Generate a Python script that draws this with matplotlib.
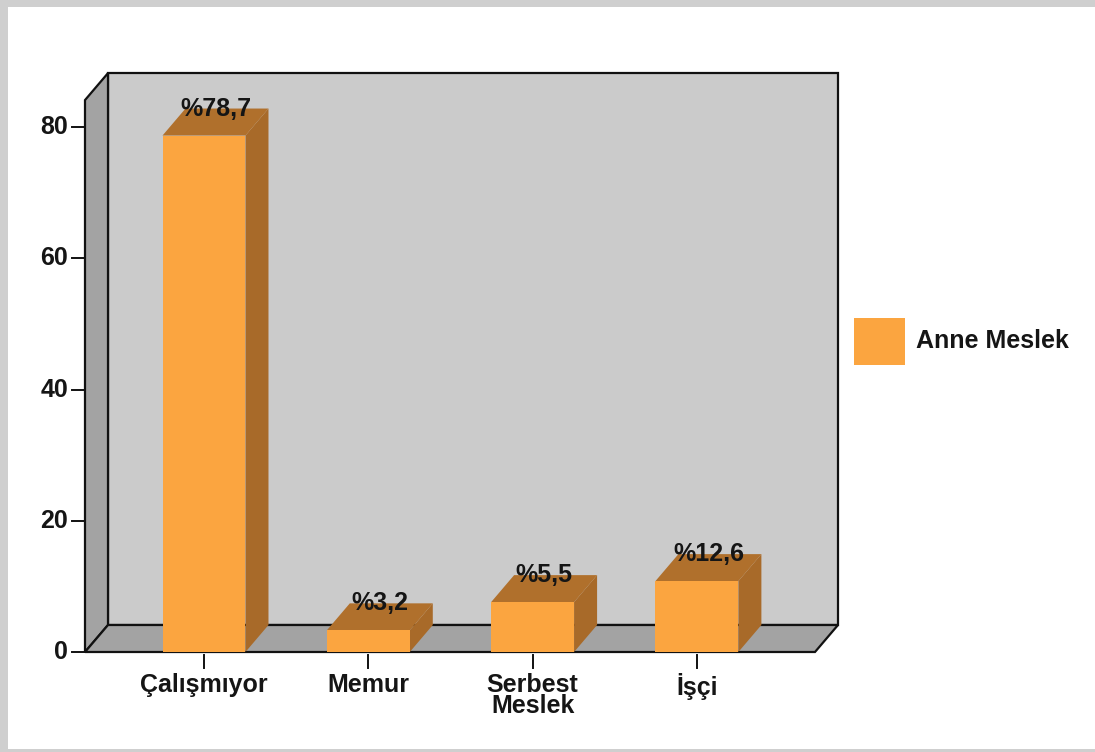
import matplotlib
matplotlib.use("Agg")
import matplotlib.pyplot as plt
from matplotlib.patches import Polygon, Rectangle

plt.rcParams['font.family'] = ['Liberation Sans', 'DejaVu Sans']
plt.rcParams['font.weight'] = 'bold'

categories = ['Çalışmıyor', 'Memur', 'Serbest\nMeslek', 'İşçi']
bar_heights = [78.7, 3.3, 7.6, 10.8]
value_labels = ['%78,7', '%3,2', '%5,5', '%12,6']
y_ticks = [0, 20, 40, 60, 80]
series_name = 'Anne Meslek'

FRONT = '#FBA540'
TOP = '#B0702C'
SIDE = '#A86A29'
WALL = '#CBCBCB'
FLOOR = '#A3A3A3'
TXT = '#151515'
FS = 18

W, H = 1095, 752
# pixel scale of the chart: category 0 at x=204px, value 0 at y=652px
px_cat, px_val = 164.3, 6.5625
x0_px, y0_px = 204, 652

fig = plt.figure(figsize=(W / 100, H / 100), dpi=100, facecolor='#cfcfcf')
ax = fig.add_axes([0, 0, 1, 1])
ax.set_xlim(-x0_px / px_cat, (W - x0_px) / px_cat)
ax.set_ylim(-(H - y0_px) / px_val, y0_px / px_val)
ax.axis('off')

def px(x, y):
    # pixel position -> data position
    return (x - x0_px) / px_cat, (y0_px - y) / px_val

# white card with soft grey edge
cx, cy = px(8, 749)
ax.add_patch(Rectangle((cx, cy), (W - 8) / px_cat, 742 / px_val,
                       facecolor='white', edgecolor='none', zorder=0))

dx, dy = 23 / px_cat, 27 / px_val
xl, _ = px(85, 0)
xr, _ = px(815, 0)
ytop = 84.1

# back wall, left wall, floor
ax.add_patch(Polygon([(xl + dx, dy), (xr + dx, dy), (xr + dx, ytop + dy), (xl + dx, ytop + dy)],
                     facecolor=WALL, edgecolor='#111111', lw=1.6, zorder=1))
ax.add_patch(Polygon([(xl, 0), (xl + dx, dy), (xl + dx, ytop + dy), (xl, ytop)],
                     facecolor=FLOOR, edgecolor='#111111', lw=1.6, zorder=1))
ax.add_patch(Polygon([(xl, 0), (xr, 0), (xr + dx, dy), (xl + dx, dy)],
                     facecolor=FLOOR, edgecolor='#111111', lw=1.6, zorder=1))

hw = 0.2525
for i, h in enumerate(bar_heights):
    l, r = i - hw, i + hw
    ax.add_patch(Polygon([(r, 0), (r + dx, dy), (r + dx, h + dy), (r, h)],
                         facecolor=SIDE, edgecolor='none', zorder=2))
    ax.add_patch(Polygon([(l, h), (r, h), (r + dx, h + dy), (l + dx, h + dy)],
                         facecolor=TOP, edgecolor='none', zorder=2))
    ax.bar(i, h, width=2 * hw, color=FRONT, zorder=3)
    ax.text(i + dx / 2, h + dy, value_labels[i], ha='center', va='center',
            fontsize=FS, color=TXT, zorder=4)

# y axis ticks
tick_l, _ = px(72, 0)
lab_x, _ = px(68, 0)
for t in y_ticks:
    ax.plot([tick_l, xl], [t, t], color='#111111', lw=1.4, zorder=2)
    ax.text(lab_x, t, str(t), ha='right', va='center', fontsize=FS, color=TXT)

# x axis ticks and labels
_, t_top = px(0, 655)
_, t_bot = px(0, 668)
_, lab_y = px(0, 673)
for i, c in enumerate(categories):
    ax.plot([i, i], [t_top, t_bot], color='#111111', lw=1.4, zorder=2)
    ax.text(i, lab_y, c, ha='center', va='top', fontsize=FS, color=TXT,
            linespacing=0.85)

# legend
lx, ly = px(854, 365)
ax.add_patch(Rectangle((lx, ly), 51 / px_cat, 47 / px_val, facecolor=FRONT,
                       edgecolor='none', zorder=2))
tx, ty = px(916, 341)
ax.text(tx, ty, series_name, ha='left', va='center', fontsize=FS, color=TXT)

fig.savefig('out.png', dpi=100, facecolor=fig.get_facecolor())
